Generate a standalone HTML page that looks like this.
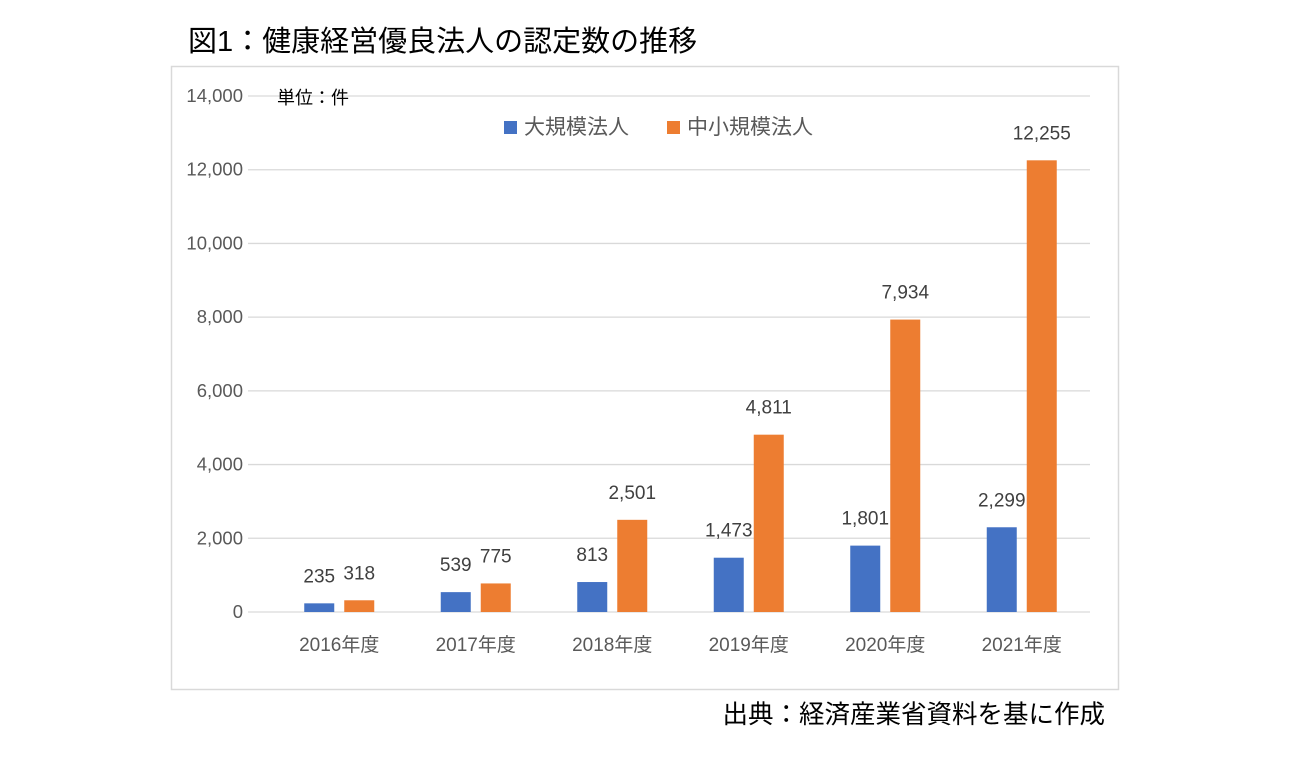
<!DOCTYPE html>
<html><head><meta charset="utf-8">
<style>
body{margin:0;background:#fff;width:1290px;height:752px;overflow:hidden;font-family:"Liberation Sans","Noto Sans CJK JP",sans-serif;}
</style></head>
<body>
<svg width="1290" height="752" xmlns="http://www.w3.org/2000/svg" style="font-family:'Liberation Sans','Noto Sans CJK JP',sans-serif">
<text x="188" y="51" font-size="29" fill="#000">図1：健康経営優良法人の認定数の推移</text>
<rect x="171.5" y="66.5" width="947" height="623" fill="#fff" stroke="#d9d9d9" stroke-width="1.5"/>
<g id="grid"></g>
<g id="bars"></g>
<text x="277" y="104" font-size="18" fill="#000">単位：件</text>
<rect x="504" y="121" width="13" height="13" fill="#4472c4"/>
<text x="524" y="134" font-size="21" fill="#595959">大規模法人</text>
<rect x="667" y="121" width="13" height="13" fill="#ed7d31"/>
<text x="687" y="134" font-size="21" fill="#595959">中小規模法人</text>
<text x="1105" y="723" font-size="25.5" fill="#000" text-anchor="end">出典：経済産業省資料を基に作成</text>
</svg>
<script>
const categories=["2016年度","2017年度","2018年度","2019年度","2020年度","2021年度"];
const largeValues=[235,539,813,1473,1801,2299];
const smeValues=[318,775,2501,4811,7934,12255];
const yTicks=[0,2000,4000,6000,8000,10000,12000,14000];
const NS="http://www.w3.org/2000/svg";
const y0=612,yTop=96,yMax=14000,plotL=271,plotR=1090;
function y(v){return y0-(v/yMax)*(y0-yTop);}
function band(i){return plotL+(plotR-plotL)/categories.length*(i+0.5);}
function mk(tag,a,p){const e=document.createElementNS(NS,tag);for(const k in a)e.setAttribute(k,a[k]);p.appendChild(e);return e;}
const grid=document.getElementById('grid'),bars=document.getElementById('bars');
yTicks.forEach(t=>{
 const l=mk('line',{x1:248,x2:plotR,y1:y(t),y2:y(t),stroke:'#d9d9d9','stroke-width':1.3},grid);
 
 
 const tx=mk('text',{x:243,y:y(t)+6,'text-anchor':'end','font-size':18.5,fill:'#595959'},grid);
 tx.textContent=t.toLocaleString('en-US');
 
 
});
categories.forEach((c,i)=>{
 const cx=band(i);
 const tx=mk('text',{x:cx,y:651,'text-anchor':'middle','font-size':19,fill:'#595959'},bars);
 tx.textContent=c;
 
 
 [[largeValues[i],cx-35,'#4472c4','bar-large'],[smeValues[i],cx+5,'#ed7d31','bar-sme']].forEach(([v,x,col,n])=>{
  const r=mk('rect',{x:x,y:y(v),width:30,height:y0-y(v),fill:col},bars);
  
  
  const lb=mk('text',{x:x+15,y:y(v)-21,'text-anchor':'middle','font-size':19,fill:'#404040'},bars);
  lb.textContent=v.toLocaleString('en-US');
  
  
 });
});
</script>
</body></html>
